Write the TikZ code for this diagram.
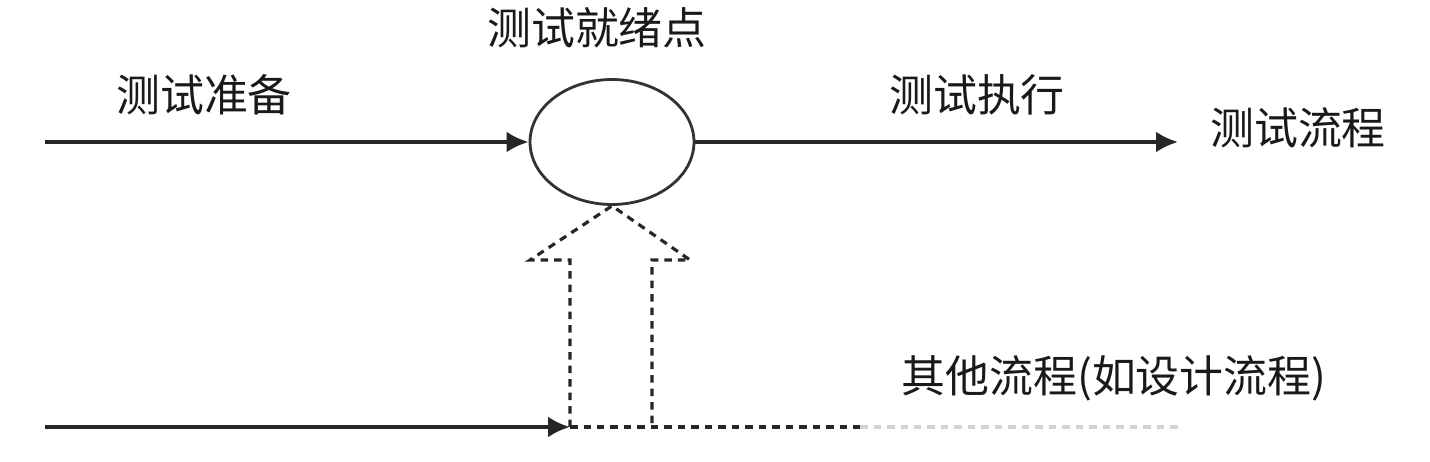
\documentclass[tikz,border=0pt]{standalone}
\usepackage{fontspec}
\setmainfont{Noto Sans CJK SC}
\usetikzlibrary{arrows.meta,shapes.geometric}

\begin{document}
\begin{tikzpicture}[x=0.02cm,y=-0.02cm]

\tikzset{tag/.style = {font=\fontsize{25}{30}\selectfont, inner sep=0pt, text=black!90}}
\tikzset{edge/.style = {-{Latex[length=0.44cm,width=0.42cm]}, line width=2.2pt, draw=black!85}}
\tikzset{hollow/.style = {dash pattern=on 0.15cm off 0.12cm, line width=1.8pt, draw=black!85}}
\useasboundingbox (0,0) rectangle (1430,462);

\node[draw=black!80, ellipse, line width=1.6pt, minimum width=3.28cm, minimum height=2.5cm] (ready) at (612,142) {};

\foreach \pos/\name/\txt in {{(204,95)/prep/测试准备}, {(597,28)/point/测试就绪点},
  {(977,95)/exec/测试执行}, {(1298,128)/flow/测试流程}, {(1114,378)/other/其他流程(如设计流程)}}
\node[tag] (\name) at \pos {\txt};

\coordinate (topin) at (45,142);
\coordinate (topout) at (1178,142);
\coordinate (botin) at (45,427);
\coordinate (left) at (570,427);
\coordinate (right) at (652,427);
\coordinate (fade) at (860,427);
\coordinate (botout) at (1180,427);

\draw[edge] (topin) -- (ready.west);
\draw[edge] (ready.east) -- (topout);
\draw[edge] (botin) -- (left);

\draw[hollow] (left) -- (fade);
\draw[hollow, draw=gray!35] (fade) -- (botout);

% hollow arrow up to the ready point
\draw[hollow] (left) -- (570,260) -- (530,260) -- (ready.south) -- (690,260) -- (652,260) -- (right);
\end{tikzpicture}
\end{document}
